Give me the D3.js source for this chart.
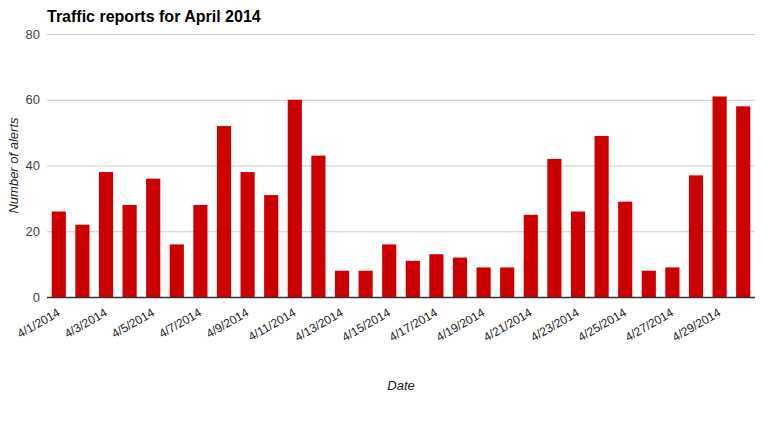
<!DOCTYPE html>
<html>
<head>
<meta charset="utf-8">
<script src="https://cdn.jsdelivr.net/npm/d3@7"></script>
<style>
  body { margin: 0; background: #fff; }
  text { font-family: "Liberation Sans", Arial, sans-serif; }
</style>
</head>
<body>
<script>
// chart data: one value per day of April 2014
var dates = [];
for (var day = 1; day <= 30; day++) dates.push("4/" + day + "/2014");

var alerts = [26, 22, 38, 28, 36, 16, 28, 52, 38, 31,
              60, 43, 8, 8, 16, 11, 13, 12, 9, 9,
              25, 42, 26, 49, 29, 8, 9, 37, 61, 58];

var yTicks = [0, 20, 40, 60, 80];

var w = 777, h = 427;
var margin = {left: 47, right: 22, top: 34, bottom: 130};

var svg = d3.select("body")
    .append("svg")
    .attr("width", w)
    .attr("height", h);

var x = d3.scaleBand()
    .domain(dates)
    .range([margin.left, w - margin.right])
    .paddingInner(0.4)
    .paddingOuter(0.2);

var y = d3.scaleLinear()
    .domain([0, 80])
    .range([h - margin.bottom, margin.top]);

// gridlines
svg.append("g")
    .selectAll("line")
    .data(yTicks)
    .enter()
    .append("line")
    .attr("x1", margin.left)
    .attr("x2", w - margin.right)
    .attr("y1", function(d){ return y(d) + 0.5; })
    .attr("y2", function(d){ return y(d) + 0.5; })
    .style("stroke", "#cccccc")
    .style("stroke-width", 1);

// y tick labels
svg.append("g")
    .selectAll("text")
    .data(yTicks)
    .enter()
    .append("text")
    .attr("x", margin.left - 7)
    .attr("y", function(d){ return y(d); })
    .attr("dy", "0.35em")
    .attr("text-anchor", "end")
    .style("font-size", "13px")
    .style("fill", "#444")
    .text(function(d){ return d; });

// bars
svg.append("g")
    .selectAll("rect")
    .data(alerts)
    .enter()
    .append("rect")
    .attr("x", function(d, i){ return x(dates[i]); })
    .attr("width", x.bandwidth())
    .attr("y", function(d){ return y(d); })
    .attr("height", function(d){ return y(0) - y(d); })
    .style("fill", "#cc0000");

// baseline
svg.append("line")
    .attr("x1", margin.left)
    .attr("x2", w - margin.right)
    .attr("y1", y(0) + 0.5)
    .attr("y2", y(0) + 0.5)
    .style("stroke", "#333")
    .style("stroke-width", 1.5);

// x tick labels, every other day
var xAxis = d3.axisBottom(x)
    .tickValues(dates.filter(function(d, i){ return i % 2 === 0; }))
    .tickSize(0)
    .tickPadding(0);

var gx = svg.append("g")
    .attr("transform", "translate(0," + y(0) + ")")
    .call(xAxis);
gx.select(".domain").remove();
gx.selectAll("text")
    .attr("y", 0)
    .attr("dy", 0)
    .attr("transform", "translate(2,18) rotate(-30)")
    .attr("text-anchor", "end")
    .style("font-family", "'Liberation Sans', Arial, sans-serif")
    .style("font-size", "12px")
    .style("fill", "#222");

// title
svg.append("text")
    .attr("x", margin.left)
    .attr("y", 22)
    .style("font-size", "16px")
    .style("font-weight", "bold")
    .style("fill", "#000")
    .text("Traffic reports for April 2014");

// axis titles
svg.append("text")
    .attr("transform", "translate(18," + ((margin.top + y(0)) / 2) + ") rotate(-90)")
    .attr("text-anchor", "middle")
    .style("font-size", "13px")
    .style("font-style", "italic")
    .style("fill", "#222")
    .text("Number of alerts");

svg.append("text")
    .attr("x", (margin.left + w - margin.right) / 2)
    .attr("y", 390)
    .attr("text-anchor", "middle")
    .style("font-size", "13px")
    .style("font-style", "italic")
    .style("fill", "#222")
    .text("Date");
</script>
</body>
</html>
